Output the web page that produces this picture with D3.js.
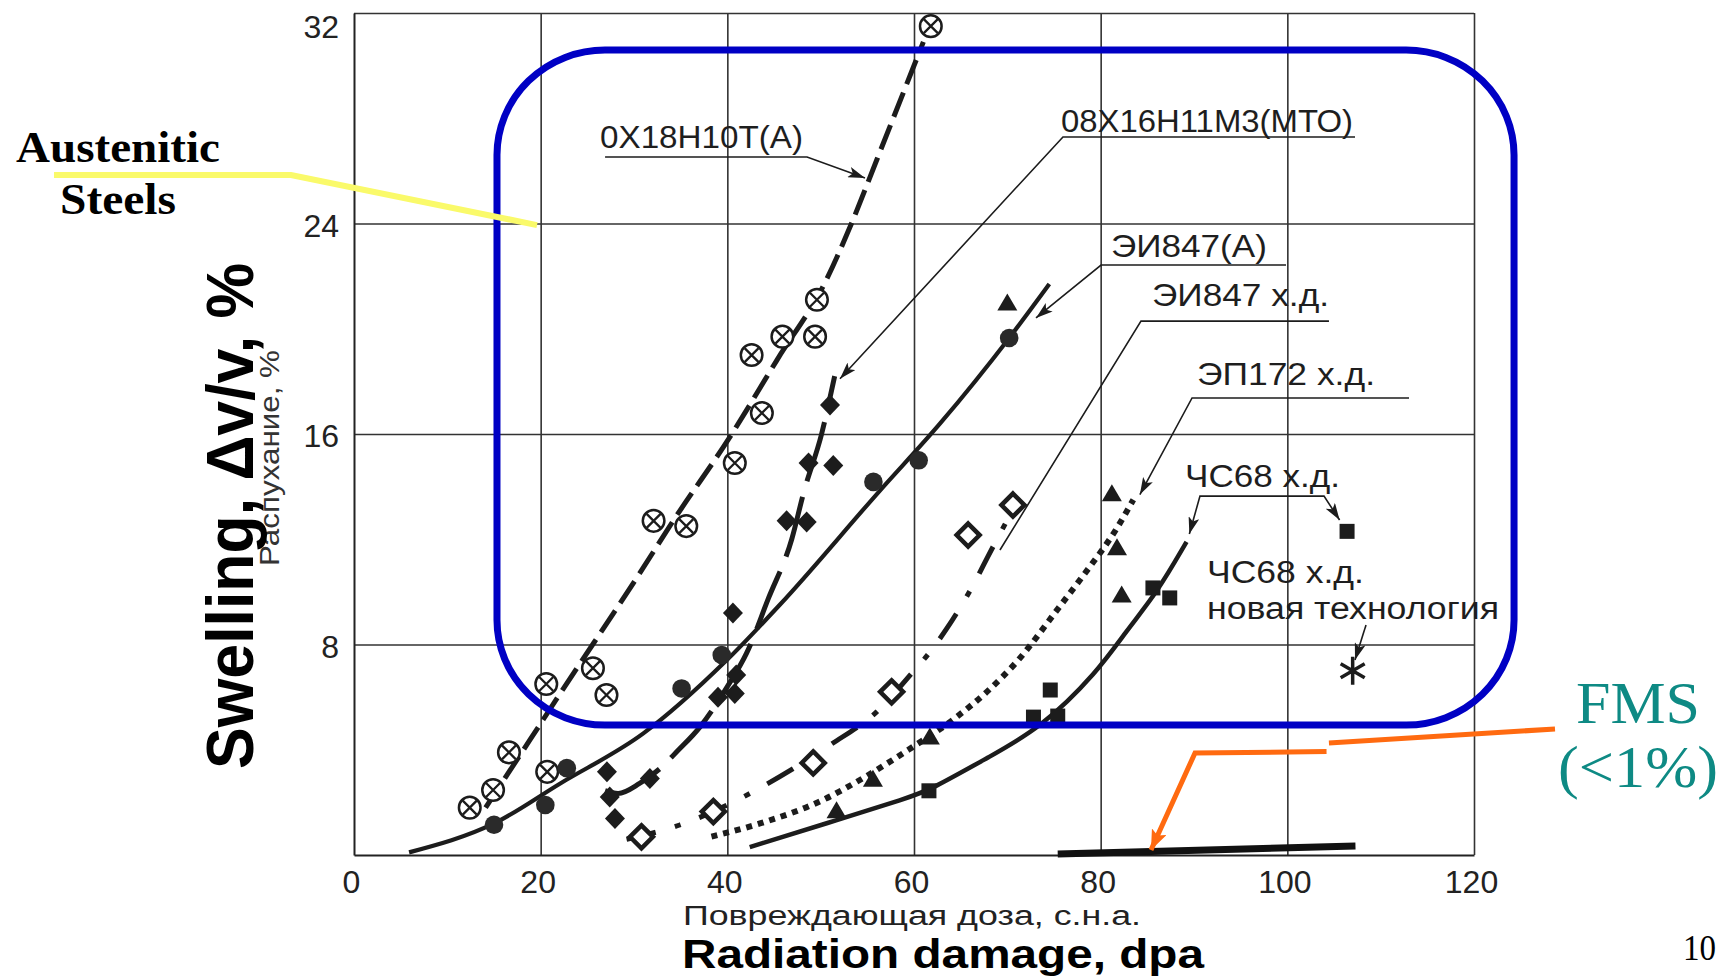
<!DOCTYPE html>
<html><head><meta charset="utf-8">
<script src="https://cdn.jsdelivr.net/npm/d3@7"></script>
<style>
html,body{margin:0;padding:0;background:#fff;}
svg{display:block;}
</style></head>
<body>
<svg id="chart" width="1725" height="977"></svg>
<script>
// ---------------- data ----------------
const xTicks = [0, 20, 40, 60, 80, 100, 120];
const yTicks = [8, 16, 24, 32];
const xGrid = [20, 40, 60, 80, 100, 120];

// 0Х18Н10Т(А)  (crossed circles, dashed)
const s1Points = [[12.4,1.8],[14.9,2.47],[16.6,3.9],[20.7,3.16],[20.6,6.5],[25.6,7.1],[27.05,6.08],[32.1,12.7],[35.6,12.5],[40.8,14.9],[43.7,16.8],[42.6,19.0],[45.9,19.7],[49.4,19.7],[49.6,21.1],[61.8,31.5]];
const s1Line = [[14.1,1.8],[18.9,4.4],[22.1,6.14],[30.6,10.7],[34.2,12.7],[40.3,15.9],[45.3,18.8],[50.6,21.85],[53.3,24],[56.1,26.5],[61,30.9]];

// 08Х16Н11М3(МТО)  (filled diamonds, long dashes)
const s2Points = [[27.1,3.16],[27.4,2.2],[27.96,1.39],[31.7,2.91],[39.0,6.0],[40.8,6.14],[40.95,6.84],[40.6,9.2],[46.35,12.7],[48.5,12.66],[48.7,14.9],[51.35,14.8],[51.0,17.1]];
const s2Line = [[26.9,2.45],[28.3,2.34],[30.6,2.72],[32.8,3.29],[34.6,3.93],[37.1,4.88],[40.0,6.4],[42.05,7.66],[44.4,9.75],[46.9,12.0],[48.2,13.8],[50.1,16.0],[51.5,18.2]];

// ЭИ847(А)  (filled circles, solid)
const s3Points = [[15.0,1.15],[20.5,1.9],[22.8,3.3],[35.1,6.33],[39.4,7.6],[55.65,14.18],[60.5,15.0],[70.2,19.65]];
const s3Line = [[5.9,0.1],[15,1.2],[22.1,2.72],[31.0,4.62],[39.75,7.34],[45.6,9.5],[56.4,13.87],[62.8,16.4],[70.2,19.65],[74.5,21.7]];

// ЭИ847 х.д.  (open diamonds, dash-dot)
const s4Points = [[30.8,0.69],[38.5,1.65],[49.2,3.5],[57.6,6.2],[65.8,12.16],[70.6,13.3]];
const s4Line = [[29.2,0.6],[34.9,1.14],[40.0,1.9],[43.1,2.47],[48.5,3.6],[51.0,4.18],[56.0,5.44],[59.75,6.9],[61.9,7.8],[63.5,8.6],[66.7,10.5],[67.9,11.33],[70.1,12.8]];

// ЭП172 х.д.  (filled triangles, dotted)
const s5Points = [[51.7,1.7],[55.6,2.9],[61.7,4.5],[70.0,21.0],[81.2,13.75],[81.75,11.7],[82.25,9.9]];
const s5Line = [[38.3,0.7],[43.5,1.2],[50.3,2.1],[54.2,2.85],[59.4,4.0],[64.4,5.2],[67.8,6.2],[71.0,7.34],[75.6,9.44],[78.3,10.7],[81.7,12.4],[83.5,13.5]];

// ЧС68 х.д.  (filled squares, solid)
const s6Points = [[61.6,2.44],[72.8,5.24],[74.6,6.27],[75.4,5.28],[85.6,10.15],[87.4,9.77],[106.4,12.3]];
const s6Line = [[42.4,0.3],[50.6,1.2],[59.6,2.2],[61.7,2.47],[68.1,3.74],[73.5,4.8],[79.7,6.97],[82.8,8.55],[86.0,9.95],[89.2,11.9]];

// ЧС68 х.д. новая технология (asterisk)
const s7Points = [[107.0,7.0]];

// FMS (<1%)
const fmsLine = [[75.4,0.04],[107.3,0.34]];

// annotation labels (data units)
const labelTexts = ["0Х18Н10Т(А)","08Х16Н11М3(МТО)","ЭИ847(А)","ЭИ847 х.д.","ЭП172 х.д.","ЧС68 х.д.","ЧС68 х.д.","новая технология"];
const labelPos = [[26.36,26.87],[75.75,27.48],[81.1,22.73],[85.5,20.86],[90.32,17.86],[89.04,13.99],[91.39,10.34],[91.39,8.97]];
const labelWidths = [203,292,156,177,178,155,157,292];

const leaders = [
  {pts:[[26.9,26.53],[48.54,26.53],[54.75,25.73]], end:true, start:false},
  {pts:[[107.25,27.29],[75.96,27.29],[52.07,18.1]], end:true, start:false},
  {pts:[[99.86,22.42],[80.04,22.42],[73.07,20.41]], end:true, start:false},
  {pts:[[104.46,20.29],[84.32,20.29],[69.21,11.59]], end:false, start:false},
  {pts:[[113.04,17.37],[89.79,17.37],[84.2,13.7]], end:true, start:false},
  {pts:[[89.5,12.2],[90.64,13.64],[103.93,13.64],[105.6,12.73]], end:true, start:true},
  {pts:[[108.43,8.74],[107.25,7.41]], end:true, start:false}
];

// highlight overlays (data units)
const blueBox = {x0:15.32, x1:124.29, y0:4.94, y1:30.59};
const yellowLine = [[-32.14,25.84],[-6.75,25.84],[19.61,23.94]];
const orangeA = [[128.68,4.79],[104.46,4.26]];
const orangeB = [[104.2,3.93],[90.11,3.88],[85.39,0.19]];

// ---------------- drawing ----------------
const svg = d3.select("#chart");
const x = d3.scaleLinear().domain([0,120]).range([354,1474]);
const y = d3.scaleLinear().domain([0,32]).range([855,13]);
const ink = "#1c1c1c";
const sans = "'Liberation Sans', Arial, sans-serif";
const serif = "'Liberation Serif', 'Times New Roman', serif";

const defs = svg.append("defs");
function arrowMarker(id, color, len, wid, orient) {
  defs.append("marker").attr("id", id).attr("markerUnits","userSpaceOnUse")
    .attr("viewBox", `0 0 ${len} ${wid}`).attr("refX", len).attr("refY", wid/2)
    .attr("markerWidth", len).attr("markerHeight", wid).attr("orient", orient)
    .append("path").attr("d", `M0,0L${len},${wid/2}L0,${wid}L4,${wid/2}Z`).attr("fill", color);
}
arrowMarker("arr", ink, 17, 11, "auto");
arrowMarker("arrS", ink, 17, 11, "auto-start-reverse");
arrowMarker("arrO", "#ff6a10", 20, 16, "auto");

// grid
const gGrid = svg.append("g");
gGrid.append("g").attr("transform", `translate(0,${y(0)})`)
  .call(d3.axisBottom(x).tickValues(xGrid).tickSize(-(y(0)-y(32))).tickFormat(""))
  .call(g => g.select(".domain").remove())
  .call(g => g.selectAll("line").attr("stroke","#333").attr("stroke-width",1.6));
gGrid.append("g").attr("transform", `translate(${x(0)},0)`)
  .call(d3.axisLeft(y).tickValues(yTicks).tickSize(-(x(120)-x(0))).tickFormat(""))
  .call(g => g.select(".domain").remove())
  .call(g => g.selectAll("line").attr("stroke","#333").attr("stroke-width",1.6));

// axes with labels
const ax = svg.append("g").attr("transform", `translate(0,${y(0)})`)
  .call(d3.axisBottom(x).tickValues(xTicks).tickSize(0).tickSizeOuter(0).tickPadding(15));
ax.select(".domain").attr("stroke","#222").attr("stroke-width",2);
ax.selectAll("text").attr("font-family", sans).attr("font-size",32).attr("fill","#222").attr("dx",-3);

const ay = svg.append("g").attr("transform", `translate(${x(0)},0)`)
  .call(d3.axisLeft(y).tickValues(yTicks).tickSize(0).tickSizeOuter(0).tickPadding(15));
ay.select(".domain").attr("stroke","#222").attr("stroke-width",2);
ay.selectAll("text").attr("font-family", sans).attr("font-size",32).attr("fill","#222")
  .attr("dy", d => d === 32 ? "0.75em" : "0.4em");

// series lines
const lineGen = d3.line().x(d => x(d[0])).y(d => y(d[1])).curve(d3.curveMonotoneX);
const smoothGen = d3.line().x(d => x(d[0])).y(d => y(d[1])).curve(d3.curveBasis);
const plot = svg.append("g");
function drawLine(data, width, dash, gen) {
  plot.append("path").datum(data).attr("d", gen || lineGen).attr("fill","none")
    .attr("stroke", ink).attr("stroke-width", width)
    .attr("stroke-dasharray", dash).attr("stroke-linecap", "butt");
}
drawLine(s1Line, 5, "26,9");
drawLine(s2Line, 5, "62,16");
drawLine(s3Line, 4.2, null);
drawLine(s4Line, 5, "30,20,6,20");
drawLine(s5Line, 6, "6,6");
drawLine(s6Line, 4.5, null, smoothGen);
plot.append("path").datum(fmsLine).attr("d", d3.line().x(d => x(d[0])).y(d => y(d[1])))
  .attr("stroke", "#111").attr("stroke-width", 7).attr("fill","none");

// markers
function place(data) {
  return plot.append("g").selectAll("g").data(data).join("g")
    .attr("transform", d => `translate(${x(d[0])},${y(d[1])})`);
}
const m1 = place(s1Points);
m1.append("circle").attr("r", 10.8).attr("fill","#fff").attr("stroke", ink).attr("stroke-width", 2.5);
m1.append("path").attr("d","M-7,-7L7,7M-7,7L7,-7").attr("stroke", ink).attr("stroke-width", 2.3);

place(s2Points).append("path").attr("d","M0,-10.5L10,0L0,10.5L-10,0Z").attr("fill", ink);
place(s3Points).append("circle").attr("r", 9.3).attr("fill", "#2a2a2a");
place(s4Points).append("path").attr("d","M0,-11.5L11.5,0L0,11.5L-11.5,0Z").attr("fill","#fff").attr("stroke", ink).attr("stroke-width", 4.5);
place(s5Points).append("path").attr("d","M0,-9L10,8L-10,8Z").attr("fill", ink);
place(s6Points).append("rect").attr("x",-7.5).attr("y",-7.5).attr("width",15).attr("height",15).attr("fill", ink);
place(s7Points).append("path").attr("d","M0,-14L0,14M-12,-7L12,7M-12,7L12,-7").attr("stroke", ink).attr("stroke-width", 3.5);

// leaders
const leaderGen = d3.line().x(d => x(d[0])).y(d => y(d[1]));
const lg = svg.append("g");
leaders.forEach(l => {
  lg.append("path").attr("d", leaderGen(l.pts)).attr("fill","none").attr("stroke", ink).attr("stroke-width", 1.6)
    .attr("marker-end", l.end ? "url(#arr)" : null).attr("marker-start", l.start ? "url(#arrS)" : null);
});

// labels
svg.append("g").selectAll("text").data(labelTexts).join("text")
  .attr("x", (d,i) => x(labelPos[i][0])).attr("y", (d,i) => y(labelPos[i][1]))
  .attr("textLength", (d,i) => labelWidths[i]).attr("lengthAdjust","spacingAndGlyphs")
  .attr("font-family", sans).attr("font-size", 31).attr("fill", "#1e1e1e").text(d => d);

// axis titles
svg.append("text").attr("x", 683).attr("y", 925).attr("textLength", 458).attr("lengthAdjust","spacingAndGlyphs")
  .attr("font-family", sans).attr("font-size", 27).attr("fill","#222").text("Повреждающая доза, с.н.а.");
svg.append("text").attr("x", 682).attr("y", 968).attr("textLength", 522).attr("lengthAdjust","spacingAndGlyphs")
  .attr("font-family", sans).attr("font-weight","bold").attr("font-size", 41).attr("fill","#000").text("Radiation damage, dpa");
svg.append("text").attr("transform","translate(279,458) rotate(-90)").attr("text-anchor","middle")
  .attr("textLength", 216).attr("lengthAdjust","spacingAndGlyphs")
  .attr("font-family", sans).attr("font-size", 28).attr("fill","#333").text("Распухание, %");
svg.append("text").attr("transform","translate(253,516) rotate(-90)").attr("text-anchor","middle")
  .attr("textLength", 506).attr("lengthAdjust","spacingAndGlyphs")
  .attr("font-family", sans).attr("font-weight","bold").attr("font-size", 66).attr("fill","#000").text("Swelling, Δv/v, %");

// page number
svg.append("text").attr("x", 1683).attr("y", 960).attr("textLength", 33).attr("lengthAdjust","spacingAndGlyphs")
  .attr("font-family", serif).attr("font-size", 36).attr("fill","#000").text("10");

// overlays
svg.append("rect").attr("x", x(blueBox.x0)).attr("y", y(blueBox.y1))
  .attr("width", x(blueBox.x1) - x(blueBox.x0)).attr("height", y(blueBox.y0) - y(blueBox.y1))
  .attr("rx", 108).attr("ry", 105).attr("fill","none").attr("stroke","#0000c4").attr("stroke-width", 7);

svg.append("path").datum(yellowLine).attr("d", leaderGen).attr("fill","none")
  .attr("stroke","#fafa6a").attr("stroke-width", 6);
svg.append("text").attr("x", x(-36.21)).attr("y", y(26.34)).attr("textLength", 204).attr("lengthAdjust","spacingAndGlyphs")
  .attr("font-family", serif).attr("font-weight","bold").attr("font-size", 45).attr("fill","#000").text("Austenitic");
svg.append("text").attr("x", x(-31.5)).attr("y", y(24.36)).attr("textLength", 116).attr("lengthAdjust","spacingAndGlyphs")
  .attr("font-family", serif).attr("font-weight","bold").attr("font-size", 45).attr("fill","#000").text("Steels");

svg.append("path").datum(orangeA).attr("d", leaderGen).attr("fill","none").attr("stroke","#ff6a10").attr("stroke-width", 5);
svg.append("path").datum(orangeB).attr("d", leaderGen).attr("fill","none").attr("stroke","#ff6a10").attr("stroke-width", 5)
  .attr("stroke-linejoin","miter").attr("marker-end","url(#arrO)");

svg.append("text").attr("x", x(130.93)).attr("y", y(5.0)).attr("textLength", 124).attr("lengthAdjust","spacingAndGlyphs")
  .attr("font-family", serif).attr("font-size", 60).attr("fill","#0e8a84").text("FMS");
svg.append("text").attr("x", x(129.0)).attr("y", y(2.6)).attr("textLength", 160).attr("lengthAdjust","spacingAndGlyphs")
  .attr("font-family", serif).attr("font-size", 60).attr("fill","#0e8a84").text("(<1%)");
</script>
</body></html>
